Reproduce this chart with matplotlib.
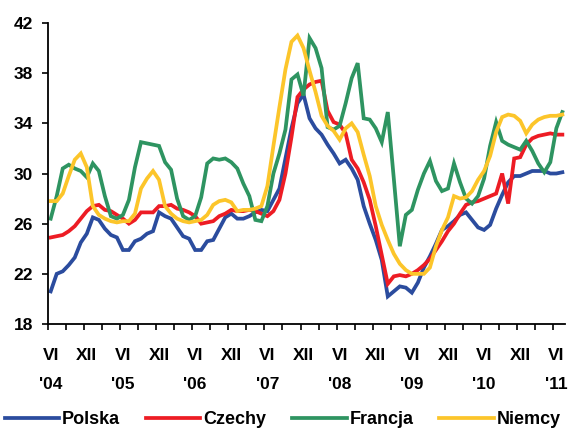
import matplotlib
matplotlib.use("Agg")
import matplotlib.pyplot as plt
import numpy as np

plt.rcParams['font.family'] = ['Liberation Sans', 'DejaVu Sans']
plt.rcParams['font.weight'] = 'bold'

# miesiace od VI 2004 do VII 2011
polska = [20.6, 22.0, 22.2, 22.7, 23.3, 24.5, 25.2, 26.5, 26.3, 25.6,
          25.1, 24.9, 23.9, 23.9, 24.6, 24.8, 25.2, 25.4, 26.9, 26.6,
          26.4, 25.7, 25.0, 24.8, 23.9, 23.9, 24.6, 24.7, 25.6, 26.5,
          26.8, 26.4, 26.4, 26.6, 26.9, 27.1, 27.0, 27.9, 28.8, 31.2,
          33.6, 35.6, 36.3, 34.4, 33.6, 33.1, 32.3, 31.6, 30.8, 31.1,
          30.4, 29.5, 27.4, 26.0, 24.7, 23.1, 20.2, 20.6, 21.0, 20.9,
          20.5, 21.3, 22.5, 23.4, 24.4, 25.5, 25.8, 26.2, 26.7, 26.9,
          26.3, 25.7, 25.5, 25.9, 27.2, 28.3, 29.3, 29.8, 29.8, 30.0,
          30.2, 30.2, 30.2, 30.0, 30.0, 30.1]
czechy = [24.9, 25.0, 25.1, 25.4, 25.8, 26.4, 27.0, 27.4, 27.5, 27.1,
          27.0, 26.7, 26.4, 26.0, 26.3, 26.9, 26.9, 26.9, 27.4, 27.4,
          27.5, 27.2, 27.1, 26.9, 26.6, 26.0, 26.1, 26.2, 26.6, 26.8,
          27.1, 27.0, 27.0, 27.1, 27.0, 26.8, 26.6, 27.0, 27.9, 30.0,
          32.9, 36.1, 36.7, 37.1, 37.3, 37.4, 35.0, 34.1, 33.9, 33.2,
          31.1, 30.4, 29.3, 27.9, 25.8, 23.5, 21.2, 21.8, 21.9, 21.8,
          22.0, 22.3, 22.7, 23.2, 23.9, 24.6, 25.4, 26.0, 26.8, 27.5,
          27.7, 27.8, 28.0, 28.2, 28.4, 30.0, 27.6, 31.2, 31.3, 32.3,
          32.8, 33.0, 33.1, 33.2, 33.1, 33.1]
francja = [26.4, 28.2, 30.4, 30.7, 30.4, 30.2, 29.7, 30.8, 30.2, 28.2,
           26.6, 26.4, 26.7, 27.9, 30.5, 32.5, 32.4, 32.3, 32.2, 30.9,
           30.3, 28.0, 26.6, 26.3, 26.6, 28.1, 30.8, 31.2, 31.1, 31.2,
           30.9, 30.4, 29.2, 28.2, 26.3, 26.2, 27.4, 30.0, 31.6, 33.5,
           37.5, 37.9, 36.2, 40.8, 40.0, 38.4, 33.7, 33.5, 33.8, 35.6,
           37.6, 38.8, 34.4, 34.3, 33.6, 32.5, 34.9, 29.6, 24.2, 26.7,
           27.1, 28.7, 30.0, 31.0, 29.4, 28.6, 28.8, 30.8, 29.3, 28.0,
           27.6, 28.2, 29.6, 32.2, 34.1, 32.6, 32.3, 32.1, 31.9, 32.6,
           31.8, 30.8, 30.1, 30.9, 33.6, 34.9]
niemcy = [27.8, 27.8, 28.4, 29.8, 31.1, 31.6, 30.5, 27.4, 26.7, 26.4,
          26.2, 26.1, 26.2, 26.2, 26.8, 28.8, 29.6, 30.2, 29.5, 27.4,
          26.8, 26.4, 26.2, 26.1, 26.2, 26.3, 26.7, 27.5, 27.8, 27.9,
          27.7, 27.0, 27.1, 27.1, 27.2, 27.4, 29.0, 32.2, 35.3, 38.3,
          40.5, 41.0, 40.0, 38.2, 36.5, 34.6, 33.8, 33.4, 32.7, 33.6,
          34.0, 33.3, 31.5, 29.8, 27.4, 25.9, 24.7, 23.6, 22.8, 22.3,
          22.0, 22.0, 22.0, 22.5, 24.2, 25.5, 26.5, 28.2, 28.0, 28.1,
          28.6, 29.5, 30.2, 31.4, 33.3, 34.5, 34.7, 34.6, 34.2, 33.2,
          33.9, 34.3, 34.5, 34.6, 34.6, 34.7]

miesiace = ['VI', 'XII']
lata = ["'04", "'05", "'06", "'07", "'08", "'09", "'10", "'11"]

serie = [('Polska', polska, '#2b4c9e'),
         ('Czechy', czechy, '#ed1c24'),
         ('Francja', francja, '#2e9461'),
         ('Niemcy', niemcy, '#fcc52a')]

fig = plt.figure(figsize=(5.69, 4.30), dpi=100)
ax = fig.add_axes([0.0838, 0.2465, 0.9098, 0.70])

x = np.arange(len(polska))
for nazwa, dane, kolor in serie:
    ax.plot(x, dane, color=kolor, lw=2.7, label=nazwa, solid_joinstyle='miter')

ax.set_xlim(-0.5, 85.5)
ax.set_ylim(18, 42)
ax.set_yticks(np.arange(18, 43, 4))
ax.set_xticks(np.arange(-0.5, 86, 3))
ax.set_xticklabels([])
ax.tick_params(axis='y', direction='out', length=4, width=1.2, labelsize=12.5, pad=6.5)
ax.tick_params(axis='x', direction='out', length=4.5, width=1.2)
for lab in ax.get_yticklabels():
    lab.set_fontweight('bold')

for s in ['top', 'right']:
    ax.spines[s].set_visible(False)
for s in ['left', 'bottom']:
    ax.spines[s].set_linewidth(1.3)

# podpisy osi X: miesiac i rok w dwoch wierszach
trans = ax.get_xaxis_transform()
for k in range(15):
    ax.text(k * 6, -0.105, miesiace[k % 2], transform=trans, ha='center',
            va='center', fontsize=12.5, fontweight='bold')
for k, rok in enumerate(lata):
    ax.text(k * 12, -0.2, rok, transform=trans, ha='center',
            va='center', fontsize=12.5, fontweight='bold')

leg = fig.legend(loc='center', bbox_to_anchor=(0.497, 0.024), ncol=4,
                 frameon=False, handlelength=3.0, handletextpad=0.15,
                 columnspacing=1.45, prop={'size': 13, 'weight': 'bold'})

fig.savefig('out.png', dpi=100)
